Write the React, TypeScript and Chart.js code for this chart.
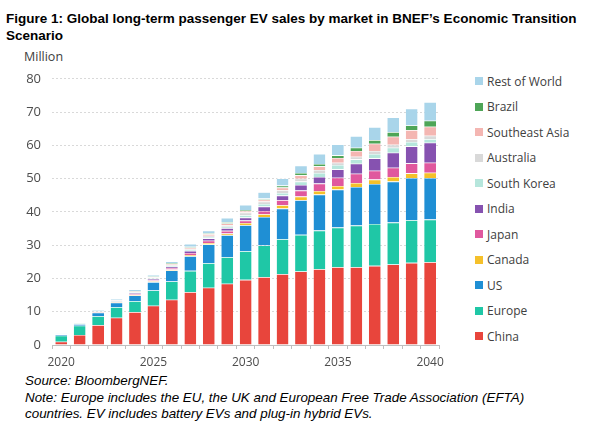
import React, { useEffect, useRef } from "react";
import { Chart, registerables } from "chart.js";

Chart.register(...registerables);

const years = ["2020","2021","2022","2023","2024","2025","2026","2027","2028","2029","2030","2031","2032","2033","2034","2035","2036","2037","2038","2039","2040"];

const china = [1.0, 3.0, 6.0, 8.2, 9.9, 11.8, 13.6, 15.9, 17.2, 18.4, 19.6, 20.4, 21.3, 22.1, 22.8, 23.4, 23.4, 23.8, 24.2, 24.7, 24.9];
const europe = [1.8, 2.8, 2.7, 3.2, 3.3, 4.6, 5.5, 6.4, 7.4, 8.0, 8.6, 9.5, 10.5, 11.0, 11.6, 11.9, 12.5, 12.6, 12.6, 12.8, 12.8];
const us = [0.4, 0.5, 1.0, 1.3, 1.7, 2.5, 3.3, 4.4, 5.6, 6.6, 7.8, 8.6, 9.2, 10.4, 10.8, 11.4, 11.6, 12.0, 12.3, 12.7, 12.5];
const canada = [0.02, 0.05, 0.1, 0.15, 0.2, 0.25, 0.3, 0.35, 0.45, 0.5, 0.7, 0.8, 1.0, 1.1, 1.1, 1.1, 1.2, 1.3, 1.4, 1.4, 1.6];
const japan = [0.02, 0.05, 0.1, 0.15, 0.25, 0.35, 0.45, 0.6, 0.7, 0.8, 0.7, 1.0, 1.5, 1.8, 2.2, 2.5, 2.8, 2.7, 2.8, 3.0, 3.0];
const india = [0.0, 0.02, 0.05, 0.1, 0.2, 0.3, 0.4, 0.6, 0.7, 0.8, 0.9, 1.3, 1.4, 1.7, 2.0, 2.5, 3.0, 3.7, 4.5, 5.1, 6.0];
const southKorea = [0.05, 0.1, 0.15, 0.2, 0.25, 0.25, 0.3, 0.35, 0.4, 0.45, 0.7, 0.8, 0.8, 1.0, 1.2, 1.3, 1.3, 1.3, 1.5, 1.3, 1.1];
const australia = [0.01, 0.03, 0.05, 0.1, 0.15, 0.2, 0.3, 0.35, 0.4, 0.5, 0.8, 0.7, 0.8, 0.9, 0.9, 0.7, 0.8, 0.9, 0.9, 0.9, 1.0];
const southeastAsia = [0.0, 0.02, 0.05, 0.1, 0.15, 0.2, 0.3, 0.35, 0.45, 0.5, 0.5, 0.6, 0.8, 1.0, 1.1, 1.4, 1.7, 2.2, 2.4, 2.7, 2.7];
const brazil = [0.0, 0.01, 0.02, 0.05, 0.1, 0.15, 0.2, 0.25, 0.3, 0.35, 0.3, 0.3, 0.6, 0.7, 0.7, 0.8, 1.0, 1.1, 1.4, 1.4, 1.8];
const restOfWorld = [0.1, 0.1, 0.25, 0.3, 0.5, 0.5, 0.5, 0.8, 0.8, 1.3, 1.5, 1.9, 2.2, 2.2, 3.0, 3.3, 3.5, 3.9, 4.4, 5.0, 5.6];

const seriesNames = ["China", "Europe", "US", "Canada", "Japan", "India", "South Korea", "Australia", "Southeast Asia", "Brazil", "Rest of World"];
const seriesValues = [china, europe, us, canada, japan, india, southKorea, australia, southeastAsia, brazil, restOfWorld];
const seriesColors = ["#e8453c", "#1fc7a6", "#1f8fd4", "#f5c02a", "#e0589e", "#8652b0", "#b6e6dc", "#d9d9d9", "#f4b6b2", "#4ea557", "#a9d5ea"];

const yTicks = [0, 10, 20, 30, 40, 50, 60, 70, 80];

export default function App() {
  const canvasRef = useRef<HTMLCanvasElement | null>(null);

  useEffect(() => {
    const canvas = canvasRef.current;
    if (!canvas) return;
    const chart = new Chart(canvas, {
      type: "bar",
      data: {
        labels: years,
        datasets: seriesNames.map((name, i) => ({
          label: name,
          data: seriesValues[i],
          backgroundColor: seriesColors[i],
          borderColor: "#ffffff",
          borderWidth: { top: 0.6, bottom: 0, left: 0, right: 0 },
          borderSkipped: false,
          categoryPercentage: 1,
          barPercentage: 0.64,
        })),
      },
      options: {
        animation: false,
        responsive: false,
        maintainAspectRatio: false,
        layout: { padding: { top: 17, right: 7, left: 0, bottom: 0 } },
        plugins: {
          legend: { display: false },
          tooltip: { enabled: false },
          title: { display: false },
        },
        scales: {
          x: {
            stacked: true,
            grid: {
              display: true,
              drawOnChartArea: false,
              drawTicks: true,
              tickLength: 4,
              color: "#bfbfbf",
              offset: true,
            },
            border: { display: true, color: "#bfbfbf" },
            ticks: {
              autoSkip: false,
              maxRotation: 0,
              minRotation: 0,
              padding: 6,
              color: "#4d4d4d",
              font: { family: "'Open Sans', sans-serif", size: 12 },
              callback: (_v: any, i: number) => (Number(years[i]) % 5 === 0 ? years[i] : ""),
            },
            afterFit: (s: any) => {
              s.height = 27;
            },
          },
          y: {
            stacked: true,
            min: yTicks[0],
            max: yTicks[yTicks.length - 1],
            afterBuildTicks: (s: any) => {
              s.ticks = yTicks.map((v) => ({ value: v }));
            },
            ticks: {
              padding: 11,
              color: "#4d4d4d",
              font: { family: "'Open Sans', sans-serif", size: 13 },
            },
            grid: { color: "#d9d9d9", drawTicks: false, lineWidth: 1 },
            border: { display: false, dash: [2, 2] },
            afterFit: (s: any) => {
              s.width = 52;
            },
          },
        },
      },
    });
    return () => chart.destroy();
  }, []);

  const legendOrder = [...seriesNames].reverse();
  const legendColors = [...seriesColors].reverse();

  return (
    <div style={{ position: "absolute", left: 0, top: 0, width: 602, height: 431, background: "#fff", overflow: "hidden" }}>
      <div
        style={{
          position: "absolute",
          left: 6,
          top: 10,
          fontFamily: "'Liberation Sans', Arial, sans-serif",
          fontWeight: "bold",
          fontSize: 13.5,
          lineHeight: "17px",
          color: "#000",
          whiteSpace: "nowrap",
        }}
      >
        Figure 1: Global long-term passenger EV sales by market in BNEF’s Economic Transition
        <br />
        Scenario
      </div>
      <div
        style={{
          position: "absolute",
          left: 24,
          top: 48,
          fontFamily: "'Open Sans', sans-serif",
          fontSize: 12.5,
          color: "#404040",
          whiteSpace: "nowrap",
        }}
      >
        Million
      </div>
      <canvas
        ref={canvasRef}
        width={450}
        height={312}
        style={{ position: "absolute", left: 0, top: 60, width: 450, height: 312 }}
      />
      {legendOrder.map((name, i) => (
        <div
          key={name}
          style={{
            position: "absolute",
            left: 475,
            top: 81 + i * 25.5 - 9,
            height: 18,
            display: "flex",
            alignItems: "center",
            fontFamily: "'Open Sans', sans-serif",
            fontSize: 12,
            color: "#404040",
            whiteSpace: "nowrap",
          }}
        >
          <span style={{ display: "inline-block", width: 8, height: 8, background: legendColors[i], marginRight: 4 }} />
          {name}
        </div>
      ))}
      <div
        style={{
          position: "absolute",
          left: 25,
          top: 373,
          fontFamily: "'Liberation Sans', Arial, sans-serif",
          fontStyle: "italic",
          fontSize: 13.4,
          lineHeight: "16.5px",
          color: "#000",
          whiteSpace: "nowrap",
        }}
      >
        Source: BloombergNEF.
        <br />
        Note: Europe includes the EU, the UK and European Free Trade Association (EFTA)
        <br />
        countries. EV includes battery EVs and plug-in hybrid EVs.
      </div>
    </div>
  );
}
